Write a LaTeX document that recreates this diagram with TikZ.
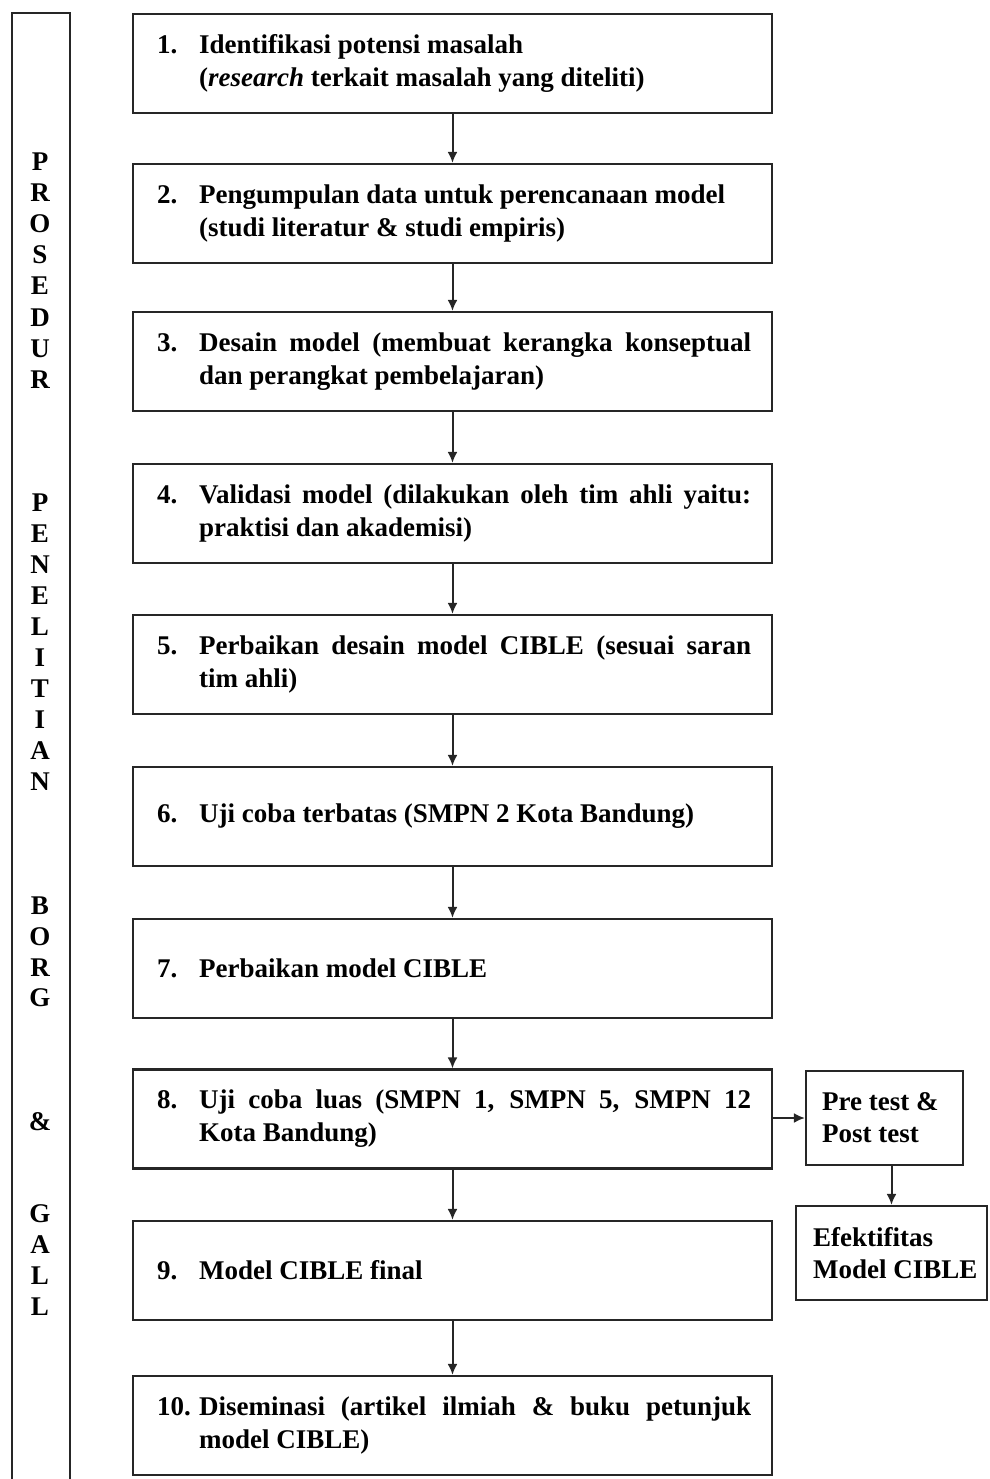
\documentclass[tikz,border=0pt]{standalone}
\usepackage{fontspec}
\setmainfont{Liberation Serif}
\usetikzlibrary{arrows.meta,calc}
\newcommand\numitem[2]{\noindent\makebox[42pt][l]{#1}\parbox[t]{552pt}{#2}}
\begin{document}
\begin{tikzpicture}[x=1pt,y=-1pt,
  box/.style={draw=black!85, line width=2.2pt, minimum width=639pt, minimum height=99pt, inner sep=0pt},
  sbox/.style={draw=black!85, line width=2.2pt, inner sep=0pt},
  txt/.style={anchor=west, text width=594pt, align=justify, inner sep=0pt, font=\bfseries\fontsize{27}{33}\selectfont},
  stxt/.style={anchor=west, align=left, inner sep=0pt, font=\bfseries\fontsize{27}{32}\selectfont},
  arr/.style={draw=black!85, line width=2pt, -{Latex[length=11pt,width=10pt]}},
  letter/.style={font=\bfseries\fontsize{27}{31}\selectfont, inner sep=0pt}
]
\useasboundingbox (0,0) rectangle (989,1479);

% left frame
\draw[draw=black!85, line width=2.2pt] (12,1495) -- (12,13) -- (70,13) -- (70,1495);
\foreach \ch/\yy [count=\k] in {P/162,R/193,O/224,S/255,E/286,D/318,U/349,R/380,
  P/503,E/534,N/565,E/596,L/627,I/658,T/689,I/720,A/751,N/782,
  B/906,O/937,R/968,G/998,\&/1122,G/1214,A/1245,L/1276,L/1307}
  \node[letter] (L\k) at (40,\yy) {\ch};

% main boxes
\node[box] (b1) at (452.5,63.5) {};
\node[box] (b2) at (452.5,213.5) {};
\node[box] (b3) at (452.5,361.5) {};
\node[box] (b4) at (452.5,513.5) {};
\node[box] (b5) at (452.5,664.5) {};
\node[box] (b6) at (452.5,816.5) {};
\node[box] (b7) at (452.5,968.5) {};
\node[box] (b8) at (452.5,1119) {};
\node[box] (b9) at (452.5,1270.5) {};
\node[box] (b10) at (452.5,1425.5) {};

\node[txt] (t1) at ([xshift=25pt]b1.west) {\numitem{1.}{Identifikasi potensi masalah\newline(\textit{research} terkait masalah yang diteliti)}};
\node[txt] (t2) at ([xshift=25pt]b2.west) {\numitem{2.}{Pengumpulan data untuk perencanaan model\newline(studi literatur \& studi empiris)}};
\node[txt] (t3) at ([xshift=25pt]b3.west) {\numitem{3.}{Desain model (membuat kerangka konseptual\linebreak dan perangkat pembelajaran)}};
\node[txt] (t4) at ([xshift=25pt]b4.west) {\numitem{4.}{Validasi model (dilakukan oleh tim ahli yaitu:\linebreak praktisi dan akademisi)}};
\node[txt] (t5) at ([xshift=25pt]b5.west) {\numitem{5.}{Perbaikan desain model CIBLE (sesuai saran\linebreak tim ahli)}};
\node[txt] (t6) at ([xshift=25pt]b6.west) {\numitem{6.}{Uji coba terbatas (SMPN 2 Kota Bandung)}};
\node[txt] (t7) at ([xshift=25pt]b7.west) {\numitem{7.}{Perbaikan model CIBLE}};
\node[txt] (t8) at ([xshift=25pt]b8.west) {\numitem{8.}{Uji coba luas (SMPN 1, SMPN 5, SMPN 12\linebreak Kota Bandung)}};
\node[txt] (t9) at ([xshift=25pt]b9.west) {\numitem{9.}{Model CIBLE final}};
\node[txt] (t10) at ([xshift=25pt]b10.west) {\numitem{10.}{Diseminasi (artikel ilmiah \& buku petunjuk\linebreak model CIBLE)}};

\foreach \a/\b in {1/2,2/3,3/4,4/5,5/6,6/7,7/8,8/9,9/10}
  \draw[arr] (b\a.south) -- (b\b.north);

% side boxes
\node[sbox, minimum width=157pt, minimum height=94pt] (pre) at (884.5,1118) {};
\node[stxt] (tpre) at ([xshift=17pt]pre.west) {Pre test \&\\Post test};
\node[sbox, minimum width=191pt, minimum height=94pt] (eff) at (891.5,1253) {};
\node[stxt] (teff) at ([xshift=18pt]eff.west) {Efektifitas\\Model CIBLE};

\draw[arr] (b8.east |- pre.west) -- (pre.west);
\draw[arr] (pre.south -| eff.north) -- (eff.north);
\end{tikzpicture}
\end{document}
